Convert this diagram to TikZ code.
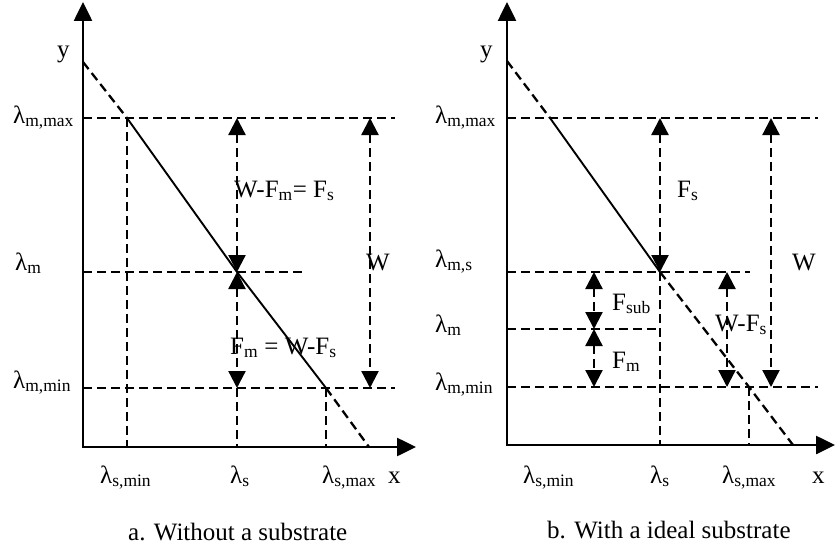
\documentclass[tikz,border=0pt]{standalone}
\usepackage{fontspec}
\setmainfont{Liberation Serif}
\usetikzlibrary{arrows.meta}

\tikzset{
  axisline/.style={line width=2.6pt,{Triangle[length=19pt,width=18pt]}-{Triangle[length=19pt,width=18pt]}},
  guide/.style={line width=2.3pt,dash pattern=on 9pt off 5pt},
  dimarrow/.style={guide,{Triangle[length=17pt,width=17pt]}-{Triangle[length=17pt,width=17pt]}},
  curve/.style={line width=1.9pt},
  lbl/.style={anchor=base west,inner sep=0pt,font=\fontsize{25}{28}\selectfont}
}

\begin{document}
\begin{tikzpicture}[x=1pt,y=-1pt]
  \useasboundingbox (0,0) rectangle (835,551);

  % a. without a substrate
  \coordinate (ya) at (83,2);
  \coordinate (oa) at (83,447);
  \coordinate (xa) at (416,447);
  \draw[axisline] (ya) -- (oa) -- (xa);
  \coordinate (ta) at (83,62);
  \coordinate (pa1) at (127,118);
  \coordinate (pa2) at (237,272);
  \coordinate (pa3) at (326,388);
  \coordinate (ba) at (369,447);
  \draw[guide] (ta) -- (pa1);
  \draw[curve] (pa1) -- (pa2) -- (pa3);
  \draw[guide] (pa3) -- (ba);
  \coordinate (amax) at (83,118);  \coordinate (amaxe) at (395,118);
  \coordinate (am) at (83,272);    \coordinate (ame) at (305,272);
  \coordinate (amin) at (83,388);  \coordinate (amine) at (395,388);
  \draw[guide] (amax) -- (amaxe);
  \draw[guide] (am) -- (ame);
  \draw[guide] (amin) -- (amine);
  \coordinate (smina) at (127,447);
  \coordinate (sa0) at (237,118);
  \coordinate (sa3) at (237,388);
  \coordinate (sa4) at (237,447);
  \coordinate (smaxa) at (326,447);
  \coordinate (wa0) at (370,118);
  \coordinate (wa1) at (370,388);
  \draw[guide] (pa1) -- (smina);
  \draw[dimarrow] (sa0) -- (pa2);
  \draw[dimarrow] (pa2) -- (sa3);
  \draw[guide] (sa3) -- (sa4);
  \draw[guide] (pa3) -- (smaxa);
  \draw[dimarrow] (wa0) -- (wa1);

  \node[lbl] (ya-l) at (57,58) {y};
  \node[lbl] (amax-l) at (13,123) {λ\textsubscript{m,max}};
  \node[lbl] (am-l) at (15,270) {λ\textsubscript{m}};
  \node[lbl] (amin-l) at (13,388) {λ\textsubscript{m,min}};
  \node[lbl] (smina-l) at (100,483) {λ\textsubscript{s,min}};
  \node[lbl] (sa-l) at (230,483) {λ\textsubscript{s}};
  \node[lbl] (smaxa-l) at (322,483) {λ\textsubscript{s,max}};
  \node[lbl] (xa-l) at (388,483) {x};
  \node[lbl] (fsa-l) at (234,197) {W-F\textsubscript{m}= F\textsubscript{s}};
  \node[lbl] (fma-l) at (230,354) {F\textsubscript{m} = W-F\textsubscript{s}};
  \node[lbl] (wa-l) at (366,270) {W};
  \node[lbl] (capa) at (128,540) {a. Without a substrate};

  % b. with a ideal substrate
  \coordinate (yb) at (507,2);
  \coordinate (ob) at (507,445);
  \coordinate (xb) at (835,445);
  \draw[axisline] (yb) -- (ob) -- (xb);
  \coordinate (tb) at (507,61);
  \coordinate (pb1) at (550,118);
  \coordinate (pb2) at (660,272);
  \coordinate (pb3) at (749,387);
  \coordinate (bb) at (793,445);
  \draw[guide] (tb) -- (pb1);
  \draw[curve] (pb1) -- (pb2);
  \draw[guide] (pb2) -- (pb3) -- (bb);
  \coordinate (bmax) at (507,118);  \coordinate (bmaxe) at (818,118);
  \coordinate (bms) at (507,272);   \coordinate (bmse) at (750,272);
  \coordinate (bm) at (507,329);    \coordinate (bme) at (660,329);
  \coordinate (bmin) at (507,387);  \coordinate (bmine) at (818,387);
  \draw[guide] (bmax) -- (bmaxe);
  \draw[guide] (bms) -- (bmse);
  \draw[guide] (bm) -- (bme);
  \draw[guide] (bmin) -- (bmine);
  \coordinate (sb0) at (660,118);
  \coordinate (sb4) at (660,445);
  \coordinate (fb0) at (594,272);
  \coordinate (fb1) at (594,329);
  \coordinate (fb2) at (594,387);
  \coordinate (db0) at (727,272);
  \coordinate (db1) at (727,387);
  \coordinate (wb0) at (771,118);
  \coordinate (wb1) at (771,387);
  \coordinate (smaxb) at (749,445);
  \draw[dimarrow] (sb0) -- (pb2);
  \draw[guide] (pb2) -- (sb4);
  \draw[dimarrow] (fb0) -- (fb1);
  \draw[dimarrow] (fb1) -- (fb2);
  \draw[dimarrow] (db0) -- (db1);
  \draw[dimarrow] (wb0) -- (wb1);
  \draw[guide] (pb3) -- (smaxb);

  \node[lbl] (yb-l) at (480,58) {y};
  \node[lbl] (bmax-l) at (435,123) {λ\textsubscript{m,max}};
  \node[lbl] (bms-l) at (435,267) {λ\textsubscript{m,s}};
  \node[lbl] (bm-l) at (435,332) {λ\textsubscript{m}};
  \node[lbl] (bmin-l) at (435,390) {λ\textsubscript{m,min}};
  \node[lbl] (sminb-l) at (523,483) {λ\textsubscript{s,min}};
  \node[lbl] (sb-l) at (650,483) {λ\textsubscript{s}};
  \node[lbl] (smaxb-l) at (722,483) {λ\textsubscript{s,max}};
  \node[lbl] (xb-l) at (812,483) {x};
  \node[lbl] (fsb-l) at (677,197) {F\textsubscript{s}};
  \node[lbl] (wb-l) at (792,270) {W};
  \node[lbl] (fsub-l) at (612,310) {F\textsubscript{sub}};
  \node[lbl] (fmb-l) at (612,368) {F\textsubscript{m}};
  \node[lbl] (db-l) at (715,331) {W-F\textsubscript{s}};
  \node[lbl] (capb) at (547,538) {b. With a ideal substrate};
\end{tikzpicture}
\end{document}
